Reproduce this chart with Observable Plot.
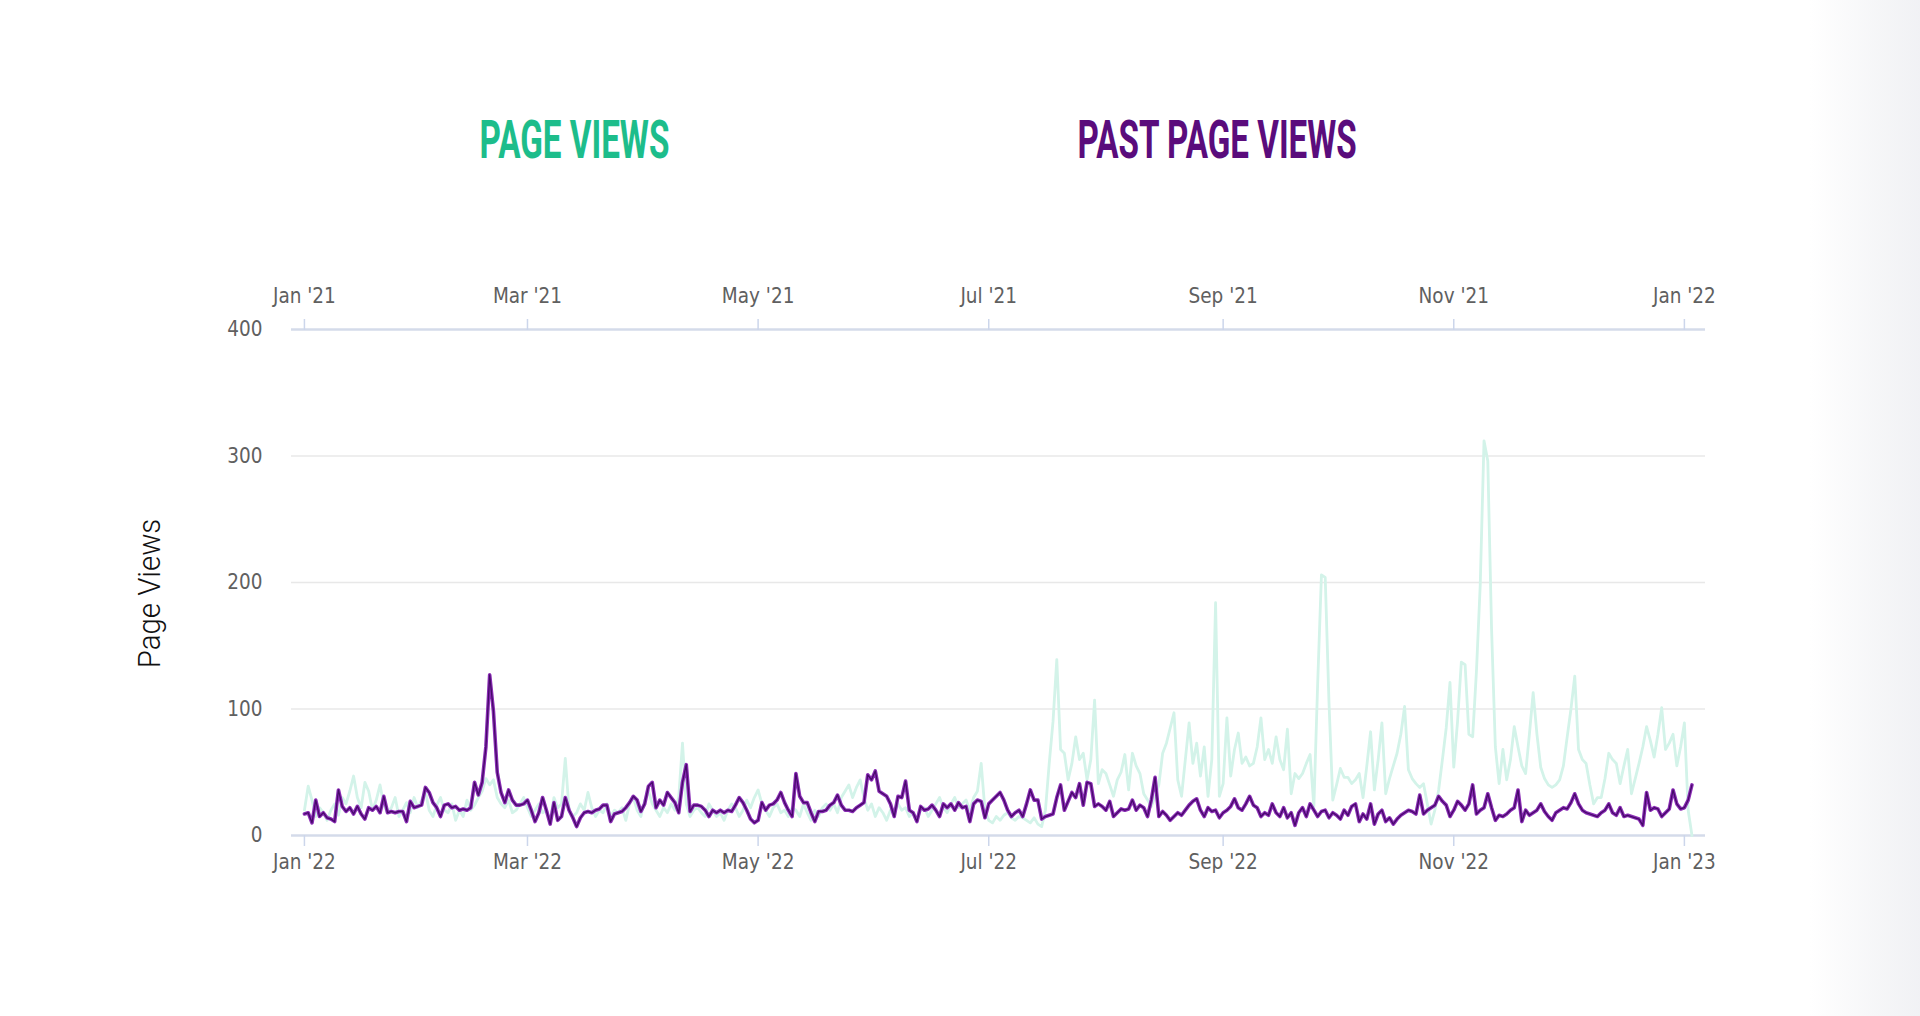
<!DOCTYPE html>
<html>
<head>
<meta charset="utf-8">
<script src="https://cdn.jsdelivr.net/npm/d3@7"></script>
<script src="https://cdn.jsdelivr.net/npm/@observablehq/plot@0.6"></script>
<style>
html, body { margin: 0; padding: 0; background: #fff; }
#wrap { position: relative; width: 1920px; height: 1016px; overflow: hidden; background: #fff; }
#chart { position: absolute; left: 0; top: 0; }
.title { position: absolute; font-family: "Liberation Sans Narrow", "Roboto", sans-serif; font-weight: 700; font-size: 54px; line-height: 1; white-space: nowrap; }
#ylabel { position: absolute; font-family: "Roboto", sans-serif; font-weight: 300; font-size: 31px; line-height: 1; white-space: nowrap; color: #111; }
#shade { position: absolute; right: 0; top: 0; width: 110px; height: 1016px;
  background: linear-gradient(to right, rgba(238,239,242,0) 0%, rgba(238,239,242,0.55) 60%, rgba(236,237,241,0.75) 100%); }
</style>
</head>
<body>
<div id="wrap">
  <div id="shade"></div>
  <div id="chart"></div>
  <span class="title" id="t1"></span>
  <span class="title" id="t2"></span>
  <span id="ylabel"></span>
</div>
<script>
// ---------- DATA ----------
const titleCurrent = "PAGE VIEWS";
const titlePast = "PAST PAGE VIEWS";
const yAxisTitle = "Page Views";

const startCurrent = "2022-01-01"; // first day of the current series
const startPast = "2021-01-01";    // first day of the past series

// daily page views, 2022-01-01 .. 2023-01-03
const currentViews = [
  17,18,10,28,15,18,14,13,11,36,
  23,19,22,17,23,17,13,22,20,23,
  18,31,18,19,18,19,19,11,27,22,
  23,24,38,34,26,22,15,24,25,22,
  23,20,21,20,22,42,32,42,70,127,
  98,50,34,26,36,28,24,24,25,28,
  20,11,18,30,20,9,26,12,15,30,
  20,14,7,14,18,19,18,20,21,24,
  24,11,17,18,19,22,26,31,28,19,
  25,39,42,22,28,24,34,30,26,18,
  42,56,19,24,24,23,20,15,20,18,
  20,18,20,19,24,30,26,20,13,10,
  12,26,20,24,25,28,34,26,20,15,
  49,31,26,26,18,11,19,19,20,24,
  26,32,24,20,20,19,22,24,26,48,
  44,51,35,33,31,25,15,31,30,43,
  20,18,11,23,20,21,24,20,15,25,
  22,25,20,26,22,23,11,25,28,27,
  14,25,28,31,34,28,20,15,18,20,
  15,25,36,28,28,13,15,16,17,30,
  40,20,27,34,30,41,24,42,41,23,
  25,23,20,27,15,18,21,20,21,28,
  20,24,22,15,28,46,15,19,16,12,
  15,18,16,20,24,27,29,20,15,22,
  19,20,14,18,20,23,29,22,20,25,
  31,24,22,15,18,16,25,18,15,22,
  14,18,8,18,22,15,25,20,15,19,
  20,14,18,16,13,20,16,23,25,11,
  17,13,25,9,17,20,11,14,9,13,
  16,18,20,19,17,32,17,20,22,24,
  31,27,24,15,20,27,24,20,25,40,
  17,20,22,33,22,12,16,15,17,20,
  22,36,11,20,16,18,20,25,19,15,
  12,18,20,22,21,26,33,25,20,18,
  17,16,15,18,20,25,18,16,22,15,
  16,15,14,13,8,34,20,22,21,15,
  18,21,36,25,21,22,28,40
];

// daily page views, 2021-01-01 .. 2022-01-03
const pastViews = [
  20,39,28,15,22,18,12,20,25,16,
  30,25,35,47,30,22,42,35,20,28,
  40,24,18,22,30,15,20,26,18,30,
  22,28,35,20,15,24,30,20,18,25,
  12,20,15,28,20,24,30,35,45,40,
  44,30,25,22,28,18,20,25,30,22,
  15,20,25,18,20,12,30,22,25,61,
  20,15,18,25,20,34,22,15,20,18,
  25,15,20,18,22,12,25,30,20,15,
  28,35,25,20,15,22,18,25,20,30,
  73,25,15,20,22,18,15,25,20,15,
  18,12,20,25,22,15,20,28,22,30,
  36,25,20,15,22,25,18,20,15,22,
  20,15,25,18,12,20,15,22,25,20,
  25,18,30,35,40,30,38,44,30,20,
  25,15,22,18,12,20,18,25,20,22,
  15,18,12,20,22,15,20,25,30,22,
  18,25,30,22,25,28,20,30,35,57,
  20,12,10,15,12,16,18,14,12,15,
  14,12,10,14,9,7,20,57,90,139,
  68,65,44,57,78,60,65,44,60,107,
  41,52,49,40,31,44,50,64,36,65,
  55,49,33,28,23,31,40,65,73,85,
  97,44,31,60,89,57,73,47,70,31,
  60,184,31,41,93,47,68,81,57,62,
  55,57,70,93,60,68,57,78,60,52,
  84,33,49,45,49,57,64,23,120,206,
  204,105,28,40,53,46,46,41,44,49,
  30,55,82,36,60,89,33,45,55,65,
  80,102,52,45,41,38,41,25,9,20,
  36,60,85,121,54,90,137,135,80,78,
  130,198,312,296,163,70,41,68,44,60,
  86,70,55,49,80,113,80,54,45,40,
  38,40,44,55,78,100,126,68,60,57,
  40,25,30,30,45,65,60,57,41,55,
  68,33,45,57,70,86,75,62,80,101,
  68,73,80,55,70,89,20,0
];

const bottomTickDates = ["2022-01-01","2022-03-01","2022-05-01","2022-07-01","2022-09-01","2022-11-01","2023-01-01"];
const bottomTickLabels = ["Jan '22","Mar '22","May '22","Jul '22","Sep '22","Nov '22","Jan '23"];
const topTickDates = ["2021-01-01","2021-03-01","2021-05-01","2021-07-01","2021-09-01","2021-11-01","2022-01-01"];
const topTickLabels = ["Jan '21","Mar '21","May '21","Jul '21","Sep '21","Nov '21","Jan '22"];
const yTicks = [0, 100, 200, 300, 400];
const yGrid = [100, 200, 300];

// ---------- BUILD ----------
const parse = s => new Date(s + "T00:00:00Z");
const c0 = parse(startCurrent), p0 = parse(startPast);
const current = currentViews.map((v, i) => ({date: d3.utcDay.offset(c0, i), value: v}));
// past year is overlaid on the current year's time axis (shifted by one year)
const past = pastViews.map((v, i) => ({date: d3.utcYear.offset(d3.utcDay.offset(p0, i), 1), value: v}));

const bottomTicks = bottomTickDates.map(parse);
const bottomMap = new Map(bottomTicks.map((d, i) => [+d, bottomTickLabels[i]]));
const topTicks = topTickDates.map(s => d3.utcYear.offset(parse(s), 1));
const topMap = new Map(topTicks.map((d, i) => [+d, topTickLabels[i]]));

const xDomain = [new Date(Date.UTC(2021, 11, 28, 14)), new Date(Date.UTC(2023, 0, 6, 14))];

const plot = Plot.plot({
  width: 1920,
  height: 1016,
  marginLeft: 291,
  marginRight: 215,
  marginTop: 329,
  marginBottom: 181,
  style: {fontFamily: "'DejaVu Sans Condensed', 'DejaVu Sans', sans-serif", fontSize: "20.5px", background: "transparent", color: "#666"},
  x: {type: "utc", domain: xDomain},
  y: {domain: [0, 400]},
  marks: [
    Plot.gridY(yGrid, {stroke: "#e8e8e8", strokeOpacity: 1, strokeWidth: 1.5}),
    Plot.ruleY([0, 400], {stroke: "#d4dbea", strokeWidth: 2.5}),
    Plot.axisY(yTicks, {tickSize: 0, tickPadding: 29, fill: "#606060", stroke: "none", label: null, tickFormat: d => String(d)}),
    Plot.axisX(bottomTicks, {anchor: "bottom", tickSize: 11, tickPadding: 8, stroke: "#ccd6eb", strokeWidth: 1.5, fill: "#606060", label: null, tickFormat: d => bottomMap.get(+d)}),
    Plot.axisX(topTicks, {anchor: "top", tickSize: 11, tickPadding: 16, stroke: "#ccd6eb", strokeWidth: 1.5, fill: "#606060", label: null, tickFormat: d => topMap.get(+d)}),
    Plot.lineY(past, {x: "date", y: "value", stroke: "#d3f3e9", strokeWidth: 2.8}),
    Plot.lineY(current, {x: "date", y: "value", stroke: "#8a2cb5", strokeWidth: 3.6}),
    Plot.lineY(current, {x: "date", y: "value", stroke: "#47096a", strokeWidth: 1.3})
  ]
});
document.getElementById("chart").appendChild(plot);

// ---------- TEXT ----------
function placeTitle(el, text, color, cx, cy, targetW) {
  el.textContent = text;
  el.style.color = color;
  const w = el.offsetWidth, h = el.offsetHeight;
  const s = targetW / w;
  el.style.left = (cx - w / 2) + "px";
  el.style.top = (cy - h / 2) + "px";
  el.style.transform = `scaleX(${s})`;
  el.style.transformOrigin = "center center";
}
placeTitle(document.getElementById("t1"), titleCurrent, "#1dbd8b", 574, 140, 190);
placeTitle(document.getElementById("t2"), titlePast, "#5a0c7c", 1217, 140, 279);

const yl = document.getElementById("ylabel");
yl.textContent = yAxisTitle;
{
  const w = yl.offsetWidth, h = yl.offsetHeight;
  const s = 150 / w;
  yl.style.left = (150 - w / 2) + "px";
  yl.style.top = (593 - h / 2) + "px";
  yl.style.transformOrigin = "center center";
  yl.style.transform = `rotate(-90deg) scaleX(${s})`;
}
</script>
</body>
</html>
